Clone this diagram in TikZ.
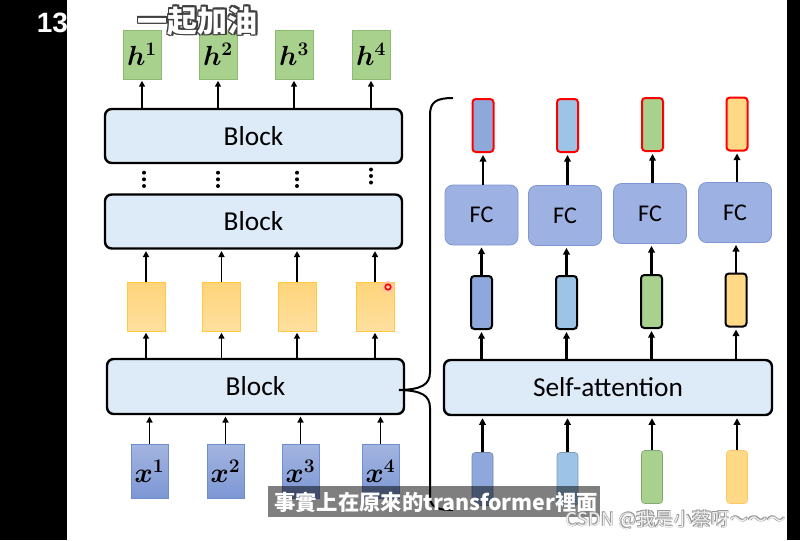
\documentclass[tikz,border=0pt]{standalone}
\usepackage{fontspec}
\usepackage{amsmath}
\usepackage{bm}
\setmainfont{Carlito}
\newfontfamily\cjktc{Noto Sans CJK TC}
\newfontfamily\cjksc{Noto Sans CJK SC}
\newfontfamily\slidenum{Liberation Sans}
\usetikzlibrary{arrows.meta}

\definecolor{blkfill}{HTML}{DDEAF7}
\definecolor{hgreen}{HTML}{A9D18E}
\definecolor{hgreenline}{HTML}{8DBB70}
\definecolor{ytop}{HTML}{FFD47A}
\definecolor{ybot}{HTML}{FFE0A0}
\definecolor{yline}{HTML}{FFC940}
\definecolor{xtop}{HTML}{A3B5E0}
\definecolor{xbot}{HTML}{7D97D4}
\definecolor{xline}{HTML}{6F8ED0}
\definecolor{fcfill}{HTML}{9DB1E2}
\definecolor{fcline}{HTML}{7F96D4}
\definecolor{vblue}{HTML}{8EA8DB}
\definecolor{vlblue}{HTML}{9DC3E6}
\definecolor{vgreen}{HTML}{A9D18E}
\definecolor{vyellow}{HTML}{FFD985}

\tikzset{
  blk/.style={draw,line width=1.8pt,rounded corners=5pt,fill=blkfill,minimum width=222.75pt,minimum height=40.5pt,inner sep=0pt,font=\fontsize{20.5}{23}\selectfont},
  hbox/.style={draw=hgreenline,line width=0.6pt,fill=hgreen,minimum width=28.5pt,minimum height=36.75pt,inner sep=0pt,font=\fontsize{22}{24}\selectfont},
  ybox/.style={draw=yline,line width=0.6pt,top color=ytop,bottom color=ybot,minimum width=28.5pt,minimum height=36.75pt,inner sep=0pt},
  xbox/.style={draw=xline,line width=0.6pt,top color=xtop,bottom color=xbot,minimum width=27.75pt,minimum height=40.5pt,inner sep=0pt,font=\fontsize{22}{24}\selectfont},
  fcbox/.style={draw=fcline,line width=0.6pt,fill=fcfill,rounded corners=6pt,minimum width=54.75pt,minimum height=45pt,inner sep=0pt,font=\fontsize{18}{20}\selectfont},
  vec/.style={rounded corners=2.5pt,minimum width=15.75pt,minimum height=39.75pt,inner sep=0pt},
  arr/.style={-{Triangle[length=4.5pt,width=4.5pt]},line width=1.3pt,shorten >=1pt},
  arrb/.style={-{Triangle[length=5pt,width=5pt]},line width=2pt,shorten >=1.5pt}
}

\begin{document}
\begin{tikzpicture}[x=0.75pt,y=0.75pt,yscale=-1,xscale=1]
	\useasboundingbox (0,0) rectangle (800,540);
	\fill[white] (0,0) rectangle (800,540);
	%Shape: black bars of the screen
	\fill[black] (0,0) rectangle (67,540);
	\fill[black] (787,0) rectangle (800,540);

	% left column: outputs
	\node[hbox] (h1) at (142,54.5) {$\bm{h}^{\bm{1}}$};
	\node[hbox] (h2) at (218,54.5) {$\bm{h}^{\bm{2}}$};
	\node[hbox] (h3) at (294,54.5) {$\bm{h}^{\bm{3}}$};
	\node[hbox] (h4) at (371,54.5) {$\bm{h}^{\bm{4}}$};
	% blocks
	\node[blk] (b1) at (253.5,136) {Block};
	\node[blk] (b2) at (253.5,221.5) {Block};
	\node[blk,minimum height=41.25pt] (b3) at (255.5,386.5) {Block};
	% hidden vectors
	\node[ybox] (y1) at (146,306.5) {};
	\node[ybox] (y2) at (221.5,306.5) {};
	\node[ybox] (y3) at (297,306.5) {};
	\node[ybox] (y4) at (375,306.5) {};
	% inputs
	\node[xbox] (x1) at (149.5,471) {$\bm{x}^{\bm{1}}$};
	\node[xbox] (x2) at (225.5,471) {$\bm{x}^{\bm{2}}$};
	\node[xbox] (x3) at (300.5,471) {$\bm{x}^{\bm{3}}$};
	\node[xbox] (x4) at (380.5,471) {$\bm{x}^{\bm{4}}$};

	\draw[arr] (h1 |- b1.north) -- (h1.south);
	\draw[arr] (h2 |- b1.north) -- (h2.south);
	\draw[arr] (h3 |- b1.north) -- (h3.south);
	\draw[arr] (h4 |- b1.north) -- (h4.south);
	\draw[arr] (y1.north) -- (y1 |- b2.south);
	\draw[arr] (y2.north) -- (y2 |- b2.south);
	\draw[arr] (y3.north) -- (y3 |- b2.south);
	\draw[arr] (y4.north) -- (y4 |- b2.south);
	\draw[arr] (y1 |- b3.north) -- (y1.south);
	\draw[arr] (y2 |- b3.north) -- (y2.south);
	\draw[arr] (y3 |- b3.north) -- (y3.south);
	\draw[arr] (y4 |- b3.north) -- (y4.south);
	\draw[arr] (x1.north) -- (x1 |- b3.south);
	\draw[arr] (x2.north) -- (x2 |- b3.south);
	\draw[arr] (x3.north) -- (x3 |- b3.south);
	\draw[arr] (x4.north) -- (x4 |- b3.south);

	% vertical dots
	\fill (144,172.7) circle (2) (144,179.3) circle (2) (144,186) circle (2);
	\fill (218,172.7) circle (2) (218,179.3) circle (2) (218,186) circle (2);
	\fill (297,172.7) circle (2) (297,179.3) circle (2) (297,186) circle (2);
	\fill (371,169.5) circle (2) (371,176) circle (2) (371,182.5) circle (2);

	% right column: outputs
	\node[vec,draw=red,line width=1.5pt,fill=vblue] (o1) at (483,125.5) {};
	\node[vec,draw=red,line width=1.5pt,fill=vlblue] (o2) at (567.5,125.5) {};
	\node[vec,draw=red,line width=1.5pt,fill=vgreen] (o3) at (652.5,124.5) {};
	\node[vec,draw=red,line width=1.5pt,fill=vyellow] (o4) at (737,124) {};
	% FC layers
	\node[fcbox] (f1) at (481.5,215) {FC};
	\node[fcbox] (f2) at (565,215.5) {FC};
	\node[fcbox] (f3) at (650,213.5) {FC};
	\node[fcbox] (f4) at (735,212.5) {FC};
	% attention outputs
	\node[vec,draw=black,line width=1.5pt,fill=vblue] (m1) at (481.5,302.5) {};
	\node[vec,draw=black,line width=1.5pt,fill=vlblue] (m2) at (566.5,302.5) {};
	\node[vec,draw=black,line width=1.5pt,fill=vgreen] (m3) at (651.5,301.5) {};
	\node[vec,draw=black,line width=1.5pt,fill=vyellow] (m4) at (736,300) {};
	% self-attention
	\node[blk,minimum width=246pt,minimum height=41.25pt] (sa) at (608,387.5) {Self-attention};
	% attention inputs
	\node[vec,draw=vblue!80!black,line width=0.5pt,fill=vblue] (i1) at (482.5,479) {};
	\node[vec,draw=vlblue!80!black,line width=0.5pt,fill=vlblue] (i2) at (567.5,479) {};
	\node[vec,draw=vgreen!80!black,line width=0.5pt,fill=vgreen] (i3) at (652,477) {};
	\node[vec,draw=vyellow!80!orange,line width=0.5pt,fill=vyellow] (i4) at (737,477) {};

	\draw[arrb] (o1 |- f1.north) -- (o1.south);
	\draw[arrb] (o2 |- f2.north) -- (o2.south);
	\draw[arrb] (o3 |- f3.north) -- (o3.south);
	\draw[arrb] (o4 |- f4.north) -- (o4.south);
	\draw[arrb] (m1.north) -- (m1 |- f1.south);
	\draw[arrb] (m2.north) -- (m2 |- f2.south);
	\draw[arrb] (m3.north) -- (m3 |- f3.south);
	\draw[arrb] (m4.north) -- (m4 |- f4.south);
	\draw[arrb] (m1 |- sa.north) -- (m1.south);
	\draw[arrb] (m2 |- sa.north) -- (m2.south);
	\draw[arrb] (m3 |- sa.north) -- (m3.south);
	\draw[arrb] (m4 |- sa.north) -- (m4.south);
	\draw[arrb] (i1.north) -- (i1 |- sa.south);
	\draw[arrb] (i2.north) -- (i2 |- sa.south);
	\draw[arrb] (i3.north) -- (i3 |- sa.south);
	\draw[arrb] (i4.north) -- (i4 |- sa.south);

	%Shape: Brace
	\draw[line width=1.5pt] (453,98) .. controls (436,98) and (430,102) .. (430,115) -- (430,372) .. controls (430,385) and (421,389.5) .. (399,390) .. controls (421,390.5) and (430,395) .. (430,408) -- (430,495) .. controls (430,507) and (436,510) .. (453,510);

	% mouse pointer
	\fill[red!25,opacity=0.6] (388,287) circle (6);
	\draw[red,line width=1.2pt] (388,287) circle (2.8);

	% Text Node
	\node[text=white,font=\slidenum\bfseries\fontsize{21}{24}\selectfont] (num) at (52.5,23) {13};
	% Text Node
	\foreach \dx/\dy in {-1.5/-1.5,-1.5/0,-1.5/1.5,0/-1.5,0/1.5,1.5/-1.5,1.5/0,1.5/1.5}
		\node[text=black!75,font=\cjksc\bfseries\fontsize{22.5}{24}\selectfont] at (197.5+\dx,21+\dy) {一起加油};
	\node[text=white,font=\cjksc\bfseries\fontsize{22.5}{24}\selectfont] (title) at (197.5,21) {一起加油};

	%Shape: subtitle bar
	\fill[black,opacity=0.5] (268,486) rectangle (600,517);
	% Text Node
	\node[text=white,font=\cjktc\bfseries\fontsize{16}{18}\selectfont,anchor=west,inner sep=0pt] (sub) at (274,502) {事實上在原來的transformer裡面};

	% Text Node
	\foreach \dx/\dy in {-0.6/-0.6,-0.6/0.6,0.6/-0.6,0.6/0.6}
		\node[text=black!40,font=\cjksc\fontsize{14}{16}\selectfont,anchor=east,inner sep=0pt] at (786+\dx,520+\dy) {CSDN @我是小蔡呀～～～};
	\node[text=black!6,font=\cjksc\fontsize{14}{16}\selectfont,anchor=east,inner sep=0pt] (mark) at (786,520) {CSDN @我是小蔡呀～～～};

\end{tikzpicture}
\end{document}
